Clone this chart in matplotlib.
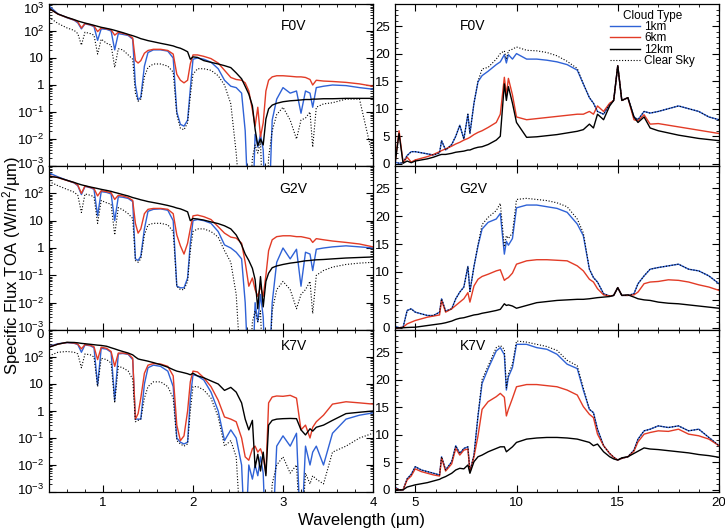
import matplotlib.pyplot as plt
from matplotlib.ticker import MultipleLocator, LogLocator, NullFormatter
from matplotlib.transforms import ScaledTranslation

plt.rcParams['font.family'] = ['Liberation Sans', 'DejaVu Sans']
plt.rcParams['mathtext.default'] = 'regular'

# ---------------- near-IR wavelength grid (um) ----------------
wl_nir = [0.40, 0.50, 0.60, 0.68, 0.72, 0.76, 0.80, 0.86, 0.90, 0.94, 0.98, 1.04, 1.09,
          1.13, 1.17, 1.22, 1.28, 1.33, 1.36, 1.39, 1.42, 1.46, 1.50, 1.56, 1.64, 1.72,
          1.78, 1.82, 1.86, 1.90, 1.94, 1.97, 2.00, 2.05, 2.12, 2.20, 2.28, 2.35, 2.42,
          2.48, 2.54, 2.58, 2.62, 2.66, 2.69, 2.72, 2.75, 2.78, 2.81, 2.84, 2.88, 2.93,
          3.00, 3.08, 3.15, 3.20, 3.25, 3.30, 3.33, 3.37, 3.45, 3.55, 3.70, 3.85, 4.00]

# F0V near-IR
f0v_nir_12km = [690, 425, 320, 263, 235, 215, 197, 176, 162, 149, 137, 125, 115,
                106, 97, 87, 75, 67, 62, 57, 52, 48, 44, 40, 35, 31,
                28, 25, 23, 20, 17, 9, 11, 10.5, 8.0, 6.9, 6.0, 5.2, 4.4,
                2.8, 1.7, 0.89, 0.46, 0.17, 0.023, 0.0057, 0.01, 0.006, 0.055, 0.13, 0.18, 0.21,
                0.24, 0.26, 0.27, 0.28, 0.29, 0.29, 0.30, 0.30, 0.31, 0.31, 0.32, 0.32, 0.32]
f0v_nir_6km = [690, 420, 315, 255, 220, 130, 190, 170, 155, 95, 130, 120, 110,
               70, 90, 82, 72, 55, 8, 6.5, 8, 15, 19, 21, 21, 19,
               14, 2.5, 1.5, 1.2, 1.5, 6, 13, 13, 11.5, 9.5, 6.5, 3.5, 1.9,
               1.6, 1.5, 1.2, 0.6, 0.12, 0.03, 0.15, 0.012, 0.04, 0.6, 1.5, 2.0, 2.2,
               2.2, 2.1, 2.0, 2.0, 1.9, 1.6, 1.0, 1.5, 1.4, 1.35, 1.25, 1.1, 0.9]
f0v_nir_1km = [850, 430, 310, 250, 200, 120, 185, 165, 145, 45, 120, 115, 100,
               20, 80, 75, 68, 50, 1.0, 0.28, 0.35, 5, 16, 20, 20, 18,
               10, 0.1, 0.035, 0.03, 0.05, 0.7, 9, 10, 9, 7, 4, 1.5, 0.9,
               0.8, 0.5, 0.02, 1e-5, 1e-5, 0.015, 0.005, 0.015, 0.004, 1e-5, 1e-5, 0.05, 0.3,
               0.8, 0.5, 0.6, 0.09, 0.6, 0.5, 0.15, 0.8, 0.9, 1.0, 0.95, 0.8, 0.7]
f0v_nir_clear = [320, 190, 130, 105, 80, 30, 90, 80, 70, 14, 50, 35, 30,
                 4.5, 22, 20, 13, 9, 0.5, 0.25, 0.3, 2.0, 4.5, 6, 6, 5,
                 3, 0.08, 0.025, 0.022, 0.04, 0.4, 2.5, 4, 4, 3.5, 2.2, 1.0, 0.2,
                 0.003, 1e-5, 1e-5, 1e-5, 0.002, 0.006, 0.003, 0.008, 1e-5, 1e-5, 0.002, 0.02, 0.08,
                 0.15, 0.05, 0.01, 0.05, 0.06, 0.1, 0.005, 0.15, 0.2, 0.22, 0.3, 0.3, 0.002]

# G2V near-IR
g2v_nir_12km = [420, 380, 300, 250, 225, 205, 190, 170, 160, 150, 140, 128, 118,
                108, 100, 90, 80, 70, 66, 62, 58, 54, 50, 46, 41, 36,
                32, 29, 27, 24, 21, 10, 12, 11.5, 10.5, 9, 7.8, 6.5, 5.0,
                3, 1.3, 0.6, 0.35, 0.18, 0.07, 0.006, 0.09, 0.007, 0.06, 0.12, 0.19, 0.22,
                0.25, 0.28, 0.3, 0.32, 0.34, 0.35, 0.36, 0.37, 0.38, 0.4, 0.43, 0.45, 0.47]
g2v_nir_6km = [440, 375, 295, 245, 200, 100, 185, 165, 150, 80, 125, 115, 105,
               60, 85, 80, 70, 55, 8, 3.5, 5, 18, 26, 28, 28, 26,
               18, 3, 1.2, 0.6, 1.5, 5, 15, 16, 14, 11, 6, 3.5, 2.5,
               2.3, 1.5, 0.3, 0.04, 0.08, 0.03, 0.017, 0.04, 0.017, 0.1, 0.8, 2.0, 2.6,
               2.8, 2.8, 2.6, 2.6, 2.4, 2.2, 1.6, 2.2, 2.0, 1.8, 1.6, 1.4, 1.1]
g2v_nir_1km = [560, 400, 300, 240, 190, 90, 180, 160, 140, 15, 115, 108, 95,
               10, 75, 72, 65, 50, 0.4, 0.35, 0.5, 5, 22, 26, 27, 24,
               10, 0.04, 0.035, 0.035, 0.08, 1.5, 10, 11, 10, 8, 4, 1.3, 1.0,
               0.7, 0.4, 0.01, 1e-5, 1e-5, 0.01, 0.002, 0.02, 0.003, 1e-5, 1e-5, 0.01, 0.3,
               1.0, 0.4, 0.9, 0.04, 0.7, 0.6, 0.15, 0.9, 1.0, 1.1, 1.2, 1.1, 1.0]
g2v_nir_clear = [270, 190, 140, 110, 85, 20, 95, 85, 75, 8, 55, 45, 40,
                 3, 30, 25, 18, 12, 0.35, 0.3, 0.4, 3, 7, 8, 8, 7,
                 4, 0.04, 0.03, 0.03, 0.06, 0.8, 4, 5, 5, 4, 2.5, 0.8, 0.3,
                 0.02, 1e-5, 1e-5, 1e-5, 0.002, 0.005, 0.002, 0.005, 1e-5, 1e-5, 1e-5, 0.005, 0.03,
                 0.06, 0.03, 0.006, 0.02, 0.03, 0.06, 0.004, 0.1, 0.15, 0.2, 0.25, 0.28, 0.3]

# K7V near-IR
k7v_nir_12km = [230, 300, 350, 345, 335, 320, 310, 295, 285, 275, 268, 250, 220,
                200, 180, 160, 140, 120, 100, 85, 80, 75, 70, 62, 52, 42,
                34, 30, 28, 26, 24, 22, 25, 20, 17, 13, 10, 5.8, 7.5,
                5, 2, 0.5, 0.2, 0.45, 0.008, 0.025, 0.006, 0.03, 0.004, 0.3, 0.45, 0.5,
                0.52, 0.53, 0.52, 0.2, 0.13, 0.22, 0.18, 0.25, 0.3, 0.45, 0.8, 0.9, 1.0]
k7v_nir_6km = [235, 300, 345, 330, 300, 200, 290, 270, 240, 80, 230, 210, 160,
               45, 140, 140, 130, 90, 0.5, 0.8, 3, 25, 50, 57, 55, 45,
               20, 0.3, 0.08, 0.12, 1, 12, 30, 28, 17, 8, 2.5, 0.6, 0.5,
               0.4, 0.1, 0.02, 0.015, 0.04, 0.05, 0.03, 0.04, 0.02, 0.005, 2, 3.3, 3.6,
               3.5, 3.8, 3.0, 0.2, 0.3, 0.1, 0.25, 0.4, 0.7, 1.8, 2.2, 2.0, 1.8]
k7v_nir_1km = [250, 310, 340, 320, 290, 150, 280, 260, 220, 9, 210, 195, 150,
               2.5, 130, 135, 125, 80, 0.5, 0.5, 0.5, 10, 40, 50, 45, 30,
               8, 0.1, 0.07, 0.06, 0.07, 3, 22, 20, 14, 5, 1, 0.08, 0.2,
               0.1, 0.01, 1e-5, 0.01, 0.003, 0.01, 0.004, 0.02, 0.005, 1e-5, 1e-5, 1e-5, 0.05,
               0.12, 0.05, 0.15, 1e-5, 0.05, 0.01, 0.03, 0.05, 0.01, 0.15, 0.5, 0.7, 0.85]
k7v_nir_clear = [110, 150, 160, 150, 130, 40, 130, 120, 100, 8, 90, 80, 60,
                 2, 45, 40, 30, 15, 0.4, 0.45, 0.5, 3, 8, 12, 12, 8,
                 3, 0.08, 0.06, 0.05, 0.06, 1, 8, 8, 6, 3, 0.6, 0.05, 0.08,
                 0.02, 1e-5, 1e-5, 1e-5, 1e-5, 1e-5, 1e-5, 1e-5, 1e-5, 1e-5, 1e-5, 0.002, 0.01,
                 0.02, 0.005, 0.01, 1e-5, 0.005, 0.002, 0.004, 0.003, 0.002, 0.03, 0.05, 0.1, 0.15]

# ---------------- thermal-IR wavelength grid (um) ----------------
wl_tir = [4.0, 4.2, 4.4, 4.6, 4.8, 5.0, 5.3, 5.6, 5.9, 6.2, 6.3, 6.5, 6.8, 7.0,
          7.2, 7.4, 7.6, 7.7, 7.9, 8.1, 8.3, 8.6, 9.0, 9.2, 9.4, 9.5, 9.6, 9.8,
          10.0, 10.5, 11.0, 11.5, 12.0, 12.5, 13.0, 13.3, 13.6, 13.8, 14.0, 14.3, 14.6, 14.8,
          15.0, 15.2, 15.5, 15.8, 16.0, 16.3, 16.6, 17.0, 17.5, 18.0, 18.5, 19.0, 19.5, 20.0]

f0v_tir_12km = [0.0, 5.5, 0.1, 0.5, 0.2, 0.5, 0.7, 0.9, 1.2, 1.6, 1.7, 1.7, 1.9, 2.1,
                2.2, 2.3, 2.5, 2.5, 2.8, 3.0, 3.1, 3.5, 4.3, 5.0, 14.5, 11.5, 14.0, 11.0,
                7.5, 4.8, 4.9, 5.1, 5.3, 5.6, 5.9, 6.2, 7.2, 6.5, 9.0, 8.0, 10.5, 11.5,
                17.8, 11.5, 12.0, 8.5, 7.5, 8.5, 6.5, 6.0, 5.6, 5.2, 4.9, 4.6, 4.4, 4.2]
f0v_tir_6km = [0.0, 6.0, 0.2, 1.2, 0.3, 0.7, 1.0, 1.3, 1.7, 2.2, 2.4, 2.7, 3.2, 3.6,
               3.9, 4.3, 4.6, 4.8, 5.3, 5.7, 6.0, 6.6, 7.5, 9.0, 15.7, 12.5, 15.5, 12.5,
               8.5, 8.0, 8.2, 8.4, 8.6, 8.8, 9.0, 9.0, 9.5, 9.0, 10.5, 9.5, 11.0, 11.5,
               17.8, 11.5, 12.0, 8.0, 7.8, 8.9, 7.2, 7.3, 7.0, 6.7, 6.4, 6.1, 5.8, 5.5]
f0v_tir_1km = [0.3, 0.1, 0.2, 1.5, 2.2, 2.2, 2.0, 1.8, 1.6, 2.0, 4.2, 2.5, 3.5, 5.0,
               7.0, 4.5, 9.0, 5.5, 11.0, 14.9, 16.0, 16.8, 18.0, 18.5, 19.8, 18.3, 19.8, 19.0,
               20.0, 19.0, 19.0, 18.8, 18.5, 18.0, 17.0, 14.5, 12.0, 11.0, 9.5, 9.0, 10.8, 11.5,
               17.8, 11.5, 12.0, 8.5, 8.0, 9.5, 9.2, 9.5, 10.0, 10.5, 10.0, 9.5, 8.5, 8.0]
f0v_tir_clear = [0.3, 0.1, 0.2, 1.5, 2.2, 2.2, 2.0, 1.8, 1.6, 2.0, 4.2, 2.5, 3.5, 5.0,
                 7.0, 4.5, 9.0, 5.5, 11.0, 15.0, 17.2, 17.5, 19.0, 20.0, 20.5, 19.0, 20.5, 20.8,
                 21.2, 20.6, 20.5, 20.2, 19.6, 18.6, 17.3, 14.5, 12.0, 11.0, 9.5, 9.0, 10.8, 11.5,
                 17.8, 11.5, 12.0, 8.5, 8.0, 9.5, 9.2, 9.5, 10.0, 10.5, 10.0, 9.5, 8.5, 8.0]

g2v_tir_12km = [0.0, 0.0, 0.0, 0.05, 0.08, 0.1, 0.25, 0.4, 0.55, 0.7, 0.75, 0.9, 1.2, 1.5,
                1.7, 1.8, 2.0, 2.1, 2.3, 2.4, 2.6, 2.8, 3.1, 3.3, 4.3, 4.0, 4.1, 3.9,
                3.5, 4.0, 4.5, 4.7, 4.9, 5.0, 5.1, 5.1, 5.2, 5.3, 5.4, 5.5, 5.6, 5.8,
                7.2, 5.8, 5.9, 5.5, 5.2, 5.0, 4.9, 4.6, 4.4, 4.3, 4.1, 3.9, 3.7, 3.5]
g2v_tir_6km = [0.0, 0.0, 0.1, 0.7, 1.0, 1.3, 1.6, 1.9, 2.1, 2.3, 4.9, 2.8, 3.4, 4.0,
               4.6, 5.2, 6.3, 4.6, 7.5, 8.7, 9.2, 9.6, 10.2, 10.4, 8.5, 8.8, 9.0, 9.8,
               11.4, 12.0, 12.2, 12.2, 12.1, 12.0, 11.1, 10.2, 8.7, 8.2, 7.0, 5.9, 5.7, 5.8,
               7.2, 5.8, 5.8, 5.9, 6.4, 7.9, 8.2, 8.3, 8.6, 8.5, 8.2, 7.7, 7.3, 6.7]
g2v_tir_1km = [0.3, 0.0, 0.1, 3.1, 3.4, 2.8, 2.5, 2.2, 2.2, 2.8, 5.2, 3.0, 3.4, 5.2,
               6.4, 7.3, 11.0, 6.5, 11.0, 14.7, 17.7, 18.9, 19.5, 20.5, 13.2, 15.5, 14.8, 16.0,
               21.5, 22.0, 22.0, 21.7, 21.4, 20.7, 18.6, 16.5, 10.5, 9.0, 8.2, 6.1, 5.7, 5.8,
               7.2, 5.8, 5.8, 6.1, 7.9, 9.3, 10.5, 10.8, 11.1, 11.4, 10.5, 10.2, 9.3, 7.9]
g2v_tir_clear = [0.3, 0.0, 0.1, 3.1, 3.4, 2.8, 2.5, 2.2, 2.2, 2.8, 5.2, 3.0, 3.4, 5.2,
                 6.4, 7.3, 11.0, 6.5, 11.0, 14.9, 18.5, 19.8, 21.0, 22.3, 14.5, 16.5, 16.0, 17.0,
                 23.0, 23.2, 23.0, 22.8, 22.4, 21.7, 19.5, 17.0, 10.5, 9.0, 8.2, 6.1, 5.7, 5.8,
                 7.2, 5.8, 5.8, 6.1, 7.9, 9.3, 10.5, 10.8, 11.1, 11.4, 10.5, 10.2, 9.3, 7.9]

k7v_tir_12km = [0.0, 0.0, 0.0, 0.5, 0.7, 0.9, 1.1, 1.3, 1.6, 1.9, 2.1, 2.4, 3.0, 3.6,
                3.9, 3.8, 4.5, 3.0, 5.1, 6.0, 6.3, 6.9, 7.5, 7.8, 7.8, 6.9, 7.2, 7.8,
                8.6, 9.2, 9.4, 9.5, 9.5, 9.4, 9.2, 8.9, 8.6, 8.0, 8.3, 6.9, 6.0, 5.6,
                5.4, 5.8, 6.0, 6.6, 7.0, 7.6, 7.4, 7.3, 7.1, 6.9, 6.7, 6.4, 6.2, 5.9]
k7v_tir_6km = [0.3, 0.0, 0.0, 1.8, 2.5, 3.8, 3.3, 3.0, 2.7, 2.5, 5.8, 3.4, 4.7, 7.5,
               6.3, 7.2, 7.4, 3.2, 6.0, 9.8, 14.6, 16.0, 16.9, 17.5, 16.8, 13.4, 14.6, 16.6,
               18.7, 19.1, 19.1, 18.9, 18.7, 18.1, 17.2, 15.1, 13.7, 13.1, 10.1, 8.0, 6.6, 5.9,
               5.4, 5.7, 6.0, 7.0, 8.7, 10.1, 10.4, 10.7, 10.6, 11.0, 10.1, 9.8, 9.2, 8.0]
k7v_tir_1km = [0.5, 0.0, 0.0, 2.0, 2.8, 4.2, 3.6, 3.3, 3.0, 2.7, 6.0, 3.6, 5.1, 8.0,
               6.6, 7.5, 7.8, 3.3, 6.3, 13.4, 19.3, 22.0, 25.2, 25.8, 24.5, 18.1, 20.5, 22.2,
               26.4, 26.4, 25.8, 25.5, 24.6, 22.8, 22.0, 18.1, 14.6, 14.0, 11.0, 8.0, 6.6, 5.9,
               5.4, 5.7, 6.0, 7.2, 9.2, 10.7, 11.0, 11.6, 11.3, 11.6, 10.7, 11.0, 9.5, 8.0]
k7v_tir_clear = [0.5, 0.0, 0.0, 2.0, 2.8, 4.2, 3.6, 3.3, 3.0, 2.7, 6.0, 3.6, 5.1, 8.0,
                 6.6, 7.5, 7.8, 3.3, 6.3, 13.6, 20.0, 22.5, 25.8, 26.2, 25.5, 18.5, 21.0, 22.8,
                 27.0, 26.8, 26.4, 26.0, 25.3, 23.5, 22.5, 18.5, 14.6, 14.0, 11.0, 8.0, 6.6, 5.9,
                 5.4, 5.7, 6.0, 7.2, 9.2, 10.7, 11.0, 11.6, 11.3, 11.6, 10.7, 11.0, 9.5, 8.0]

stars = ['F0V', 'G2V', 'K7V']
nir_sets = [(f0v_nir_1km, f0v_nir_6km, f0v_nir_12km, f0v_nir_clear),
            (g2v_nir_1km, g2v_nir_6km, g2v_nir_12km, g2v_nir_clear),
            (k7v_nir_1km, k7v_nir_6km, k7v_nir_12km, k7v_nir_clear)]
tir_sets = [(f0v_tir_1km, f0v_tir_6km, f0v_tir_12km, f0v_tir_clear),
            (g2v_tir_1km, g2v_tir_6km, g2v_tir_12km, g2v_tir_clear),
            (k7v_tir_1km, k7v_tir_6km, k7v_tir_12km, k7v_tir_clear)]
cloud_labels = ['1km', '6km', '12km', 'Clear Sky']

BLUE = '#2f62d6'
RED = '#e23b26'

fig = plt.figure(figsize=(7.25, 5.31), dpi=100)
W, H = 725.0, 531.0
left_x0, right_x0, col_w = 49 / W, 395 / W, 324 / W
row_top = [4, 166, 330]
row_bot = [166, 330, 492]
star_y = [0.865, 0.86, 0.90]


def style(ax):
    ax.tick_params(which='both', direction='in', top=True, right=True, labelsize=9.5)
    ax.tick_params(which='major', length=5, width=0.8)
    ax.tick_params(which='minor', length=2.5, width=0.6)
    for s in ax.spines.values():
        s.set_linewidth(0.9)


def draw(ax, x, series):
    one, six, twelve, clear = series
    h1, = ax.plot(x, one, color=BLUE, lw=1.0)
    h2, = ax.plot(x, six, color=RED, lw=1.0)
    h3, = ax.plot(x, twelve, color='black', lw=1.0)
    h4, = ax.plot(x, clear, color='black', lw=0.8, ls=(0, (1, 1.6)))
    return [h1, h2, h3, h4]


for i, star in enumerate(stars):
    b = 1 - row_bot[i] / H
    h = (row_bot[i] - row_top[i]) / H

    # left: near-IR log panel
    axl = fig.add_axes([left_x0, b, col_w, h])
    draw(axl, wl_nir, nir_sets[i])
    axl.set_yscale('log')
    axl.set_ylim(1e-3, 1e3)
    axl.set_xlim(0.4, 4.0)
    axl.xaxis.set_major_locator(MultipleLocator(1))
    axl.xaxis.set_minor_locator(MultipleLocator(0.2))
    axl.yaxis.set_minor_locator(LogLocator(base=10, subs=range(2, 10), numticks=20))
    axl.yaxis.set_minor_formatter(NullFormatter())
    ylabs = ['10$^{-3}$', '10$^{-2}$', '10$^{-1}$', '1', '10', '10$^{2}$',
             '10$^{3}$' if i == 0 else '0']
    axl.set_yticks([1e-3, 1e-2, 1e-1, 1, 10, 100, 1000])
    axl.set_yticklabels(ylabs)
    style(axl)
    if i < 2:
        axl.set_xticklabels([])
    else:
        axl.set_xticks([1, 2, 3, 4])
        axl.set_xticklabels(['1', '2', '3', '4'])
    # nudge the end labels off the panel joins
    labs = axl.get_yticklabels()
    labs[0].set_transform(labs[0].get_transform() +
                          ScaledTranslation(0, 3 / 100.0, fig.dpi_scale_trans))
    labs[-1].set_transform(labs[-1].get_transform() +
                           ScaledTranslation(0, -4 / 100.0, fig.dpi_scale_trans))
    axl.text(0.755, star_y[i], star, transform=axl.transAxes, fontsize=10,
             ha='center', va='center')

    # right: thermal-IR linear panel
    axr = fig.add_axes([right_x0, b, col_w, h])
    handles = draw(axr, wl_tir, tir_sets[i])
    axr.set_xlim(4, 20)
    axr.set_ylim(-0.4, 29)
    axr.xaxis.set_major_locator(MultipleLocator(5))
    axr.xaxis.set_minor_locator(MultipleLocator(1))
    axr.set_yticks([0, 5, 10, 15, 20, 25])
    axr.yaxis.set_minor_locator(MultipleLocator(1))
    style(axr)
    if i < 2:
        axr.set_xticklabels([])
    axr.text(0.24, star_y[i], star, transform=axr.transAxes, fontsize=10,
             ha='center', va='center')
    if i == 0:
        axr.legend(handles, cloud_labels, title='Cloud Type', loc='upper left',
                   bbox_to_anchor=(0.665, 0.965), frameon=False, fontsize=8.5,
                   title_fontsize=8.5, handlelength=2.5, handletextpad=0.35,
                   labelspacing=-0.05, borderpad=0, borderaxespad=0)

fig.text(12 / W, 0.5, 'Specific Flux TOA (W/m$^2$/µm)', rotation=90,
         ha='center', va='center', fontsize=12)
fig.text(362 / W, 1 - 520 / H, 'Wavelength (µm)', ha='center', va='center', fontsize=12)

fig.savefig('out.png', dpi=100)
